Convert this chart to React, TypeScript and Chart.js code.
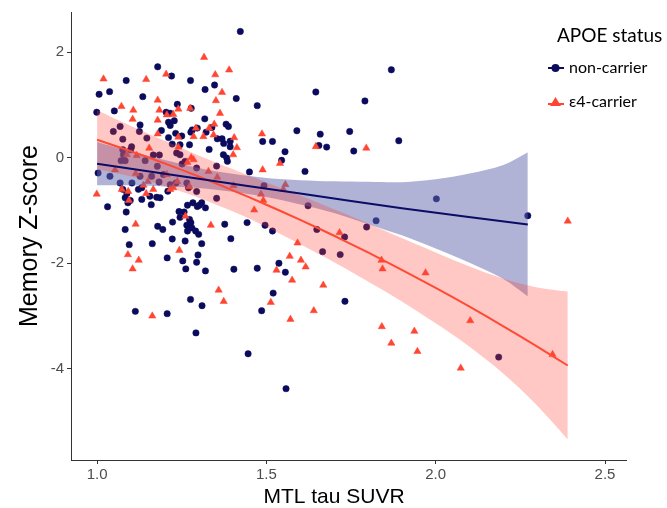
import React, { useEffect, useRef } from "react";
import { Chart, registerables } from "chart.js";

Chart.register(...registerables);

// ---- data ----
const NAVY_X = [1.423,1.179,1.220,1.086,1.276,1.006,1.037,1.319,1.347,1.135,1.411,1.473,1.646,1.051,0.999,1.237,1.278,1.204,1.216,1.228,1.211,1.216,1.318,1.190,1.127,1.125,1.147,1.068,1.048,1.076,1.211,1.232,1.250,1.281,1.277,1.296,1.273,1.245,1.222,1.322,1.339,1.381,1.388,1.369,1.355,1.374,1.393,1.393,1.331,1.373,1.383,1.385,1.235,1.245,1.102,1.099,1.076,1.078,1.083,1.071,1.142,1.166,1.184,1.178,1.251,1.260,1.294,1.353,1.003,1.038,1.068,1.103,1.127,1.161,1.183,1.196,1.216,1.233,1.265,1.270,1.294,1.132,1.122,1.076,1.088,1.083,1.098,1.091,1.132,1.156,1.176,1.186,1.209,1.086,1.031,1.160,1.267,1.283,1.309,1.302,1.296,1.242,1.257,1.273,1.277,1.353,1.320,1.265,1.083,1.179,1.194,1.223,1.245,1.280,1.291,1.267,1.377,1.443,1.496,1.518,1.450,1.493,1.489,1.518,1.555,1.545,1.590,1.659,1.678,1.655,1.614,1.746,1.758,1.623,1.649,1.095,1.163,1.222,1.260,1.300,1.309,1.395,1.207,1.253,1.262,1.294,1.298,1.320,1.404,1.473,1.537,1.556,1.520,1.276,1.310,1.113,1.207,1.486,1.292,1.446,1.558,1.666,1.718,1.732,1.869,1.791,1.891,2.002,2.272,1.824,1.796,1.731,2.186];
const NAVY_Y = [2.39,1.72,1.545,1.46,1.46,1.20,1.25,1.29,1.375,1.155,1.12,0.985,1.243,0.885,0.86,1.01,0.935,0.86,0.84,0.70,0.67,0.61,0.735,0.515,0.62,0.496,0.37,0.59,0.496,0.35,0.38,0.46,0.41,0.526,0.483,0.56,0.244,0.244,0.257,0.483,0.57,0.634,0.59,0.357,0.357,0.27,0.31,0.206,0.156,0.056,-0.007,-0.07,0.087,0.056,0.206,0.15,0.15,0.056,-0.057,-0.057,-0.057,0.05,0.05,-0.164,-0.12,-0.07,-0.196,-0.16,-0.29,-0.353,-0.48,-0.48,-0.353,-0.353,-0.46,-0.32,-0.51,-0.48,-0.48,-0.57,-0.64,-0.57,-0.60,-0.60,-0.68,-0.76,-0.81,-0.855,-0.79,-0.73,-0.75,-0.76,-0.635,-1.03,-0.93,-0.89,-0.90,-0.855,-0.855,-0.90,-0.925,-1.02,-1.03,-1.17,-1.23,-0.77,-0.95,-1.28,-1.36,-1.30,-1.36,-1.22,-1.13,-1.33,-1.39,-1.39,-1.26,-1.23,-1.28,-1.39,-0.27,-0.53,0.307,0.307,0.112,-0.05,0.51,0.445,0.20,0.23,-0.26,0.496,0.125,-0.91,-1.36,-1.647,-1.628,-1.540,-1.578,-1.452,-1.628,-1.534,-1.898,-1.955,-2.106,-1.98,-1.842,-2.144,-2.112,-2.093,-1.999,-2.169,-2.565,-2.684,-2.803,-2.91,-2.954,-2.898,-3.318,-3.714,-4.374,-1.78,-1.836,-2.72,1.664,1.074,0.320,-0.780,-1.100,-1.195,-1.314,-1.503,-3.777];

const RED_X = [1.316,1.019,1.145,1.204,1.349,1.390,1.369,1.351,1.179,1.072,1.107,1.184,1.240,1.275,1.105,1.179,1.206,1.225,1.363,1.346,1.331,1.179,1.240,1.292,1.285,1.314,1.344,1.405,1.413,1.402,1.154,1.088,1.117,1.240,1.278,1.285,1.267,1.329,1.355,1.053,1.114,1.206,1.237,1.150,1.137,1.273,1.225,1.073,1.092,1.145,1.166,1.216,0.999,1.094,1.403,1.487,1.489,1.540,1.646,1.484,1.491,1.464,1.556,1.550,1.336,1.261,1.114,1.592,1.716,1.243,1.091,1.123,1.105,1.163,1.359,1.374,1.569,1.602,1.616,1.530,1.576,1.668,1.513,1.640,1.571,1.795,2.390,1.840,1.843,1.970,1.841,1.869,1.937,1.946,2.102,2.074,2.345];
const RED_Y = [1.90,1.49,1.48,1.58,1.57,1.66,1.237,1.08,1.09,0.97,0.90,0.90,0.92,0.935,0.728,0.71,0.81,0.82,0.84,0.634,0.56,0.45,0.39,0.56,0.40,0.40,0.43,0.38,0.19,0.056,0.18,0.056,0.04,0.20,0.0,-0.04,-0.09,-0.26,-0.37,-0.23,-0.30,-0.32,-0.45,-0.45,-0.52,-0.55,-0.57,-0.60,-0.64,-0.68,-0.60,-0.60,-0.69,-0.81,-0.53,0.45,-0.23,-0.11,0.21,-0.69,-0.81,-0.99,-0.51,-0.60,-1.28,-1.11,-1.26,-1.616,-1.421,-1.754,-1.836,-1.942,-2.106,-2.998,-2.508,-2.722,-1.867,-1.942,-2.068,-2.131,-2.319,-2.414,-2.740,-2.897,-3.061,0.181,-1.201,-1.942,-2.106,-2.181,-3.199,-3.513,-3.287,-3.670,-3.086,-3.985,-3.727];

const NAVY_FIT_X = [1.0, 1.3, 1.6, 1.9, 2.272];
const NAVY_FIT_Y = [-0.114, -0.40, -0.68, -0.96, -1.264];
const NAVY_BAND_X = [1.0, 1.1, 1.2, 1.3, 1.4, 1.5, 1.6, 1.7, 1.8, 1.9, 2.0, 2.1, 2.2, 2.272];
const NAVY_BAND_UPPER = [0.296, 0.116, -0.045, -0.195, -0.306, -0.386, -0.426, -0.447, -0.457, -0.465, -0.41, -0.30, -0.14, 0.10];
const NAVY_BAND_LOWER = [-0.524, -0.524, -0.545, -0.575, -0.646, -0.746, -0.886, -1.047, -1.26, -1.47, -1.72, -1.99, -2.30, -2.63];

const RED_FIT_X = [1.0, 1.1, 1.2, 1.3, 1.4, 1.5, 1.6, 1.7, 1.8, 1.9, 2.0, 2.1, 2.2, 2.3, 2.39];
const RED_FIT_Y = [0.339, 0.121, -0.111, -0.357, -0.617, -0.891, -1.178, -1.479, -1.795, -2.123, -2.466, -2.822, -3.193, -3.578, -3.936];
const RED_BAND_X = [1.0, 1.1, 1.2, 1.3, 1.4, 1.5, 1.6, 1.7, 1.8, 1.9, 2.0, 2.1, 2.2, 2.3, 2.39];
const RED_BAND_UPPER = [0.899, 0.601, 0.319, 0.043, -0.217, -0.471, -0.718, -0.979, -1.245, -1.523, -1.796, -2.062, -2.293, -2.458, -2.536];
const RED_BAND_LOWER = [-0.221, -0.359, -0.541, -0.757, -1.017, -1.311, -1.638, -1.979, -2.345, -2.723, -3.136, -3.582, -4.093, -4.698, -5.336];

const X_TICKS = [1.0, 1.5, 2.0, 2.5];
const Y_TICKS = [-4, -2, 0, 2];
const X_TITLE = "MTL tau SUVR";
const Y_TITLE = "Memory Z-score";
const LEGEND_TITLE = "APOE status";
const LEGEND_LABELS = ["non-carrier", "\u03b54-carrier"];

const NAVY = "#0b0b5e";
const RED = "#ff4632";

const zip = (xs: number[], ys: number[]) => xs.map((x, i) => ({ x, y: ys[i] }));

const textPlugin = {
  id: "apoeLegend",
  afterDraw(chart: any) {
    const ctx = chart.ctx as CanvasRenderingContext2D;
    ctx.save();
    // x axis title
    ctx.fillStyle = "#000";
    ctx.textAlign = "center";
    ctx.textBaseline = "middle";
    ctx.font = "21px 'Liberation Sans', Arial";
    ctx.fillText(X_TITLE, 334, 497);
    // legend
    ctx.textAlign = "left";
    ctx.font = "19px Lato";
    ctx.fillText(LEGEND_TITLE, 557, 36);
    ctx.font = "16px Lato";
    const y1 = 68;
    ctx.strokeStyle = NAVY;
    ctx.lineWidth = 2;
    ctx.beginPath();
    ctx.moveTo(548, y1);
    ctx.lineTo(564, y1);
    ctx.stroke();
    ctx.fillStyle = NAVY;
    ctx.beginPath();
    ctx.arc(555.5, y1, 4, 0, Math.PI * 2);
    ctx.fill();
    ctx.fillStyle = "#000";
    ctx.fillText(LEGEND_LABELS[0], 569, y1);
    const y2 = 102;
    ctx.strokeStyle = RED;
    ctx.beginPath();
    ctx.moveTo(548, y2 + 2);
    ctx.lineTo(564, y2 + 2);
    ctx.stroke();
    ctx.fillStyle = RED;
    ctx.beginPath();
    ctx.moveTo(555.5, y2 - 5);
    ctx.lineTo(561, y2 + 4);
    ctx.lineTo(550, y2 + 4);
    ctx.closePath();
    ctx.fill();
    ctx.fillStyle = "#000";
    ctx.fillText(LEGEND_LABELS[1], 569, y2);
    ctx.restore();
  },
};

const bandStyle = {
  showLine: true,
  borderWidth: 0,
  borderColor: "rgba(0,0,0,0)",
  pointRadius: 0,
  tension: 0.35,
};

export default function App() {
  const ref = useRef<HTMLCanvasElement | null>(null);

  useEffect(() => {
    if (!ref.current) return;
    const tickFont = { family: "Liberation Sans, Arial", size: 15 };
    const chart = new Chart(ref.current, {
      type: "scatter",
      data: {
        datasets: [
          {
            label: "navy fit",
            data: zip(NAVY_FIT_X, NAVY_FIT_Y),
            showLine: true,
            borderColor: "#0c0c66",
            borderWidth: 2,
            pointRadius: 0,
            tension: 0.3,
            fill: false,
            order: 1,
          } as any,
          {
            label: "red fit",
            data: zip(RED_FIT_X, RED_FIT_Y),
            showLine: true,
            borderColor: "#ff4a36",
            borderWidth: 2,
            pointRadius: 0,
            tension: 0.3,
            fill: false,
            order: 1,
          } as any,
          {
            label: "red band upper",
            data: zip(RED_BAND_X, RED_BAND_UPPER),
            ...bandStyle,
            backgroundColor: "rgba(255,66,50,0.29)",
            fill: "+1",
            order: 3,
          } as any,
          {
            label: "red band lower",
            data: zip(RED_BAND_X, RED_BAND_LOWER),
            ...bandStyle,
            fill: false,
            order: 3,
          } as any,
          {
            label: "navy band upper",
            data: zip(NAVY_BAND_X, NAVY_BAND_UPPER),
            ...bandStyle,
            backgroundColor: "rgba(98,103,172,0.5)",
            fill: "+1",
            order: 4,
          } as any,
          {
            label: "navy band lower",
            data: zip(NAVY_BAND_X, NAVY_BAND_LOWER),
            ...bandStyle,
            fill: false,
            order: 4,
          } as any,
          {
            label: LEGEND_LABELS[1],
            data: zip(RED_X, RED_Y),
            pointStyle: "triangle",
            pointRadius: 4.2,
            backgroundColor: RED,
            borderColor: RED,
            borderWidth: 0.5,
            order: 5,
          } as any,
          {
            label: LEGEND_LABELS[0],
            data: zip(NAVY_X, NAVY_Y),
            pointStyle: "circle",
            pointRadius: 3.2,
            backgroundColor: NAVY,
            borderColor: NAVY,
            borderWidth: 0.5,
            order: 6,
          } as any,
        ],
      },
      options: {
        responsive: false,
        animation: false,
        layout: { padding: { left: 0, top: 10, right: 41, bottom: 0 } },
        plugins: {
          legend: { display: false },
          tooltip: { enabled: false },
        },
        scales: {
          x: {
            type: "linear",
            min: 0.923,
            max: 2.562,
            afterFit: (s: any) => {
              s.height = 48;
            },
            afterBuildTicks: (s: any) => {
              s.ticks = X_TICKS.map((v) => ({ value: v }));
            },
            grid: {
              drawOnChartArea: false,
              drawTicks: true,
              tickLength: 4,
              tickColor: "#333",
            },
            border: { display: true, color: "#333", width: 1 },
            ticks: {
              font: tickFont,
              color: "#4d4d4d",
              padding: 2,
              maxRotation: 0,
              callback: (v: any) => Number(v).toFixed(1),
            },
            title: { display: false },
          },
          y: {
            type: "linear",
            min: -5.725,
            max: 2.758,
            afterFit: (s: any) => {
              s.width = 71;
            },
            afterBuildTicks: (s: any) => {
              s.ticks = Y_TICKS.map((v) => ({ value: v }));
            },
            grid: {
              drawOnChartArea: false,
              drawTicks: true,
              tickLength: 4,
              tickColor: "#333",
            },
            border: { display: true, color: "#333", width: 1 },
            ticks: {
              font: tickFont,
              color: "#4d4d4d",
              padding: 3,
              callback: (v: any) => String(v),
            },
            title: {
              display: true,
              text: Y_TITLE,
              color: "#000",
              font: { family: "Liberation Sans, Arial", size: 25, lineHeight: 1 },
              padding: { top: 18, bottom: 0 },
            },
          },
        },
      } as any,
      plugins: [textPlugin],
    });
    return () => chart.destroy();
  }, []);

  return (
    <div style={{ position: "absolute", left: 0, top: 0, width: 667, height: 508, background: "#fff" }}>
      <canvas ref={ref} width={667} height={508} style={{ width: 667, height: 508, display: "block" }} />
    </div>
  );
}
